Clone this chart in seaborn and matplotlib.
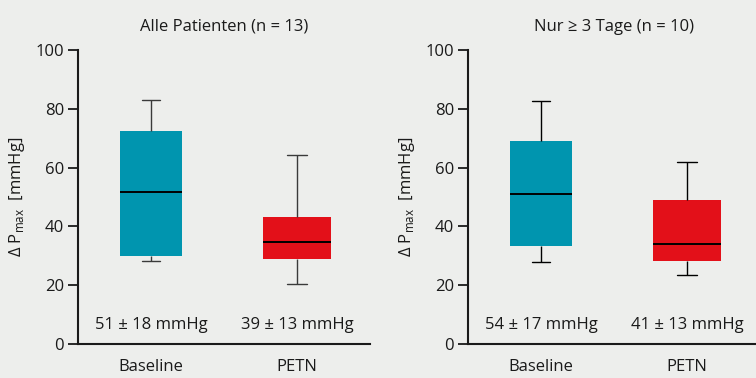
import numpy as np
import pandas as pd
import matplotlib
matplotlib.use("Agg")
import matplotlib.pyplot as plt
import seaborn as sns

# values: whisker low, Q1, median, Q3, whisker high
categories = ["Baseline", "PETN"]
titles = ["Alle Patienten (n = 13)", "Nur \u2265 3 Tage (n = 10)"]
all_baseline = [28.2, 30.0, 51.6, 72.3, 83.1]
all_petn = [20.3, 29.0, 34.8, 43.1, 64.3]
long_baseline = [27.8, 33.4, 51.0, 69.0, 82.5]
long_petn = [23.5, 28.3, 33.9, 49.0, 61.8]
all_labels = ["51 \u00b1 18 mmHg", "39 \u00b1 13 mmHg"]
long_labels = ["54 \u00b1 17 mmHg", "41 \u00b1 13 mmHg"]

bg = "#EDEEEC"
colors = {"Baseline": "#0095AF", "PETN": "#E31019"}
widths = {"Baseline": 0.42, "PETN": 0.47}
fs = 12

sns.set_style("white")
plt.rcParams["font.family"] = ["Open Sans", "DejaVu Sans"]
plt.rcParams["mathtext.fontset"] = "custom"
plt.rcParams["mathtext.rm"] = "Open Sans"

fig = plt.figure(figsize=(7.56, 3.78), dpi=100, facecolor=bg)
ax1 = fig.add_axes([78 / 756, 34 / 378, 292 / 756, 294 / 378])
ax2 = fig.add_axes([468 / 756, 34 / 378, 292 / 756, 294 / 378])

panels = [
    (ax1, all_baseline, all_petn, all_labels, titles[0], "#3a3a3a"),
    (ax2, long_baseline, long_petn, long_labels, titles[1], "black"),
]

for ax, base, petn, labels, title, wcol in panels:
    ax.set_facecolor(bg)
    df = pd.DataFrame({
        "group": ["Baseline"] * len(base) + ["PETN"] * len(petn),
        "value": base + petn,
    })
    for cat in categories:
        sub = df[df["group"] == cat]
        sns.boxplot(data=sub, x="group", y="value", order=categories, ax=ax,
                    color=colors[cat], width=widths[cat], whis=100, saturation=1,
                    showfliers=False,
                    boxprops=dict(facecolor=colors[cat], edgecolor=colors[cat], linewidth=0),
                    whiskerprops=dict(color=wcol, linewidth=1),
                    capprops=dict(color=wcol, linewidth=1),
                    medianprops=dict(color="black", linewidth=1.4))

    # narrower whisker caps
    ends = {min(base), max(base), min(petn), max(petn)}
    for line in ax.lines:
        xd, yd = line.get_data()
        if len(xd) == 2 and yd[0] == yd[1] and yd[0] in ends:
            c = (xd[0] + xd[1]) / 2
            half = (xd[1] - xd[0]) / 2 * 0.6
            line.set_xdata([c - half, c + half])

    for i, lab in enumerate(labels):
        ax.text(i, 6.5, lab, ha="center", va="center", fontsize=fs, color="#1a1a1a")

    ax.set_xlim(-0.5, 1.5)
    ax.set_ylim(0, 100)
    ax.set_yticks([0, 20, 40, 60, 80, 100])
    ax.set_xticks([0, 1])
    ax.set_xticklabels(categories)
    ax.set_xticks([-0.5, 0.5, 1.5], minor=True)
    ax.tick_params(axis="x", which="major", length=0, pad=11, labelsize=fs, colors="#1a1a1a")
    ax.tick_params(axis="x", which="minor", length=7, width=1.3, direction="out", color="#1a1a1a")
    ax.tick_params(axis="y", length=7, width=1.3, direction="out", labelsize=fs, pad=3,
                   colors="#1a1a1a", left=True)
    ax.set_xlabel("")
    ax.set_ylabel("\u0394 P$_{\\mathregular{max}}$  [mmHg]", fontsize=fs, labelpad=6, color="#1a1a1a")
    ax.set_title(title, fontsize=fs, pad=14, color="#1a1a1a")
    for s in ["top", "right"]:
        ax.spines[s].set_visible(False)
    for s in ["left", "bottom"]:
        ax.spines[s].set_linewidth(1.5)
        ax.spines[s].set_color("#1a1a1a")

plt.savefig("out.png", dpi=100, facecolor=bg)
